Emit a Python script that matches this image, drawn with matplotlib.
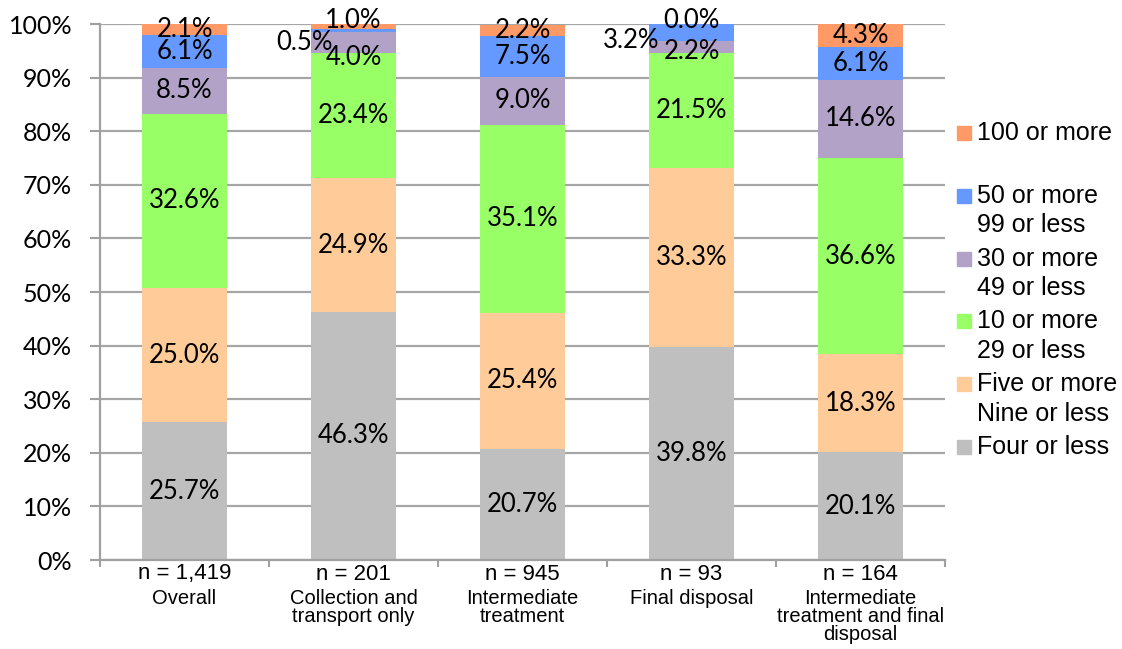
import matplotlib
matplotlib.use("Agg")
import matplotlib.pyplot as plt
import matplotlib.transforms as mtransforms
from matplotlib.patches import Rectangle

groups = ["Overall", "Collection and\ntransport only", "Intermediate\ntreatment",
          "Final disposal", "Intermediate\ntreatment and final\ndisposal"]
n_labels = ["n = 1,419", "n = 201", "n = 945", "n = 93", "n = 164"]

series_names = ["Four or less", "Five or more\nNine or less", "10 or more\n29 or less",
                "30 or more\n49 or less", "50 or more\n99 or less", "100 or more"]
four_or_less = [25.7, 46.3, 20.7, 39.8, 20.1]
five_to_nine = [25.0, 24.9, 25.4, 33.3, 18.3]
ten_to_29 = [32.6, 23.4, 35.1, 21.5, 36.6]
thirty_to_49 = [8.5, 4.0, 9.0, 2.2, 14.6]
fifty_to_99 = [6.1, 0.5, 7.5, 3.2, 6.1]
hundred_plus = [2.1, 1.0, 2.2, 0.0, 4.3]
series = [four_or_less, five_to_nine, ten_to_29, thirty_to_49, fifty_to_99, hundred_plus]
colors = ["#BFBFBF", "#FFCC99", "#99FF66", "#B3A2C7", "#6699FF", "#FF9966"]
yticks = list(range(0, 101, 10))

W, H = 1122, 649
fig = plt.figure(figsize=(W / 100, H / 100), dpi=100)
ax = fig.add_axes([100 / W, 1 - 560 / H, 845 / W, 536 / H])

label_font = ["Lato", "DejaVu Sans"]
arial = ["Liberation Sans", "DejaVu Sans"]

# manual label nudges (series index, group index) -> (dx, y)
nudges = {
    (5, 1): (0.0, 100.7),
    (4, 1): (-0.29, 96.5),
    (3, 1): (0.0, 93.7),
    (5, 3): (0.0, 100.7),
    (4, 3): (-0.355, 97.0),
    (3, 3): (0.0, 94.8),
}

x = list(range(len(groups)))
bottom = [0.0] * len(groups)
for si, (vals, col) in enumerate(zip(series, colors)):
    ax.bar(x, vals, width=0.5, bottom=bottom, color=col, edgecolor="none", zorder=2)
    for gi, v in enumerate(vals):
        dx, yy = nudges.get((si, gi), (0.0, bottom[gi] + v / 2))
        ax.text(gi + dx, yy, f"{v:.1f}%", ha="center", va="center",
                fontsize=18.5, family=label_font, color="black", zorder=4, clip_on=False)
    bottom = [b + v for b, v in zip(bottom, vals)]

ax.set_xlim(-0.5, len(groups) - 0.5)
ax.set_ylim(0, 100)
ax.set_yticks(yticks)
ax.set_yticklabels([f"{t}%" for t in yticks], fontsize=18, family=label_font)
ax.set_xticks([i - 0.5 for i in range(len(groups) + 1)])
ax.set_xticklabels([])
ax.tick_params(axis="x", length=5, width=1.5, color="#A0A0A0", direction="out")
ax.tick_params(axis="y", length=7, width=1.5, color="#A0A0A0", direction="out", pad=13)
ax.yaxis.grid(True, color="#A6A6A6", linewidth=1.6, zorder=0)
ax.set_axisbelow(True)
for s in ["top", "right"]:
    ax.spines[s].set_visible(False)
for s in ["left", "bottom"]:
    ax.spines[s].set_color("#A0A0A0")
    ax.spines[s].set_linewidth(1.6)

trans = mtransforms.blended_transform_factory(ax.transData, fig.transFigure)
for gi in x:
    ax.text(gi, 1 - 574 / H, n_labels[gi], transform=trans, ha="center", va="center",
            fontsize=16, family=arial)
    ax.text(gi, 1 - 589 / H, groups[gi], transform=trans, ha="center", va="top",
            fontsize=14.5, family=arial, linespacing=0.95)

# legend (reversed order, drawn manually)
first_y = 133
step = 62.8
for k, si in enumerate(reversed(range(len(series)))):
    yc = first_y + k * step
    fig.patches.append(Rectangle((957 / W, 1 - (yc + 7) / H), 14 / W, 14 / H,
                                 transform=fig.transFigure, color=colors[si], figure=fig))
    fig.text(977 / W, 1 - (yc - 12) / H, series_names[si], ha="left", va="top",
             fontsize=18, family=arial, linespacing=1.3)

fig.savefig("out.png", dpi=100)
